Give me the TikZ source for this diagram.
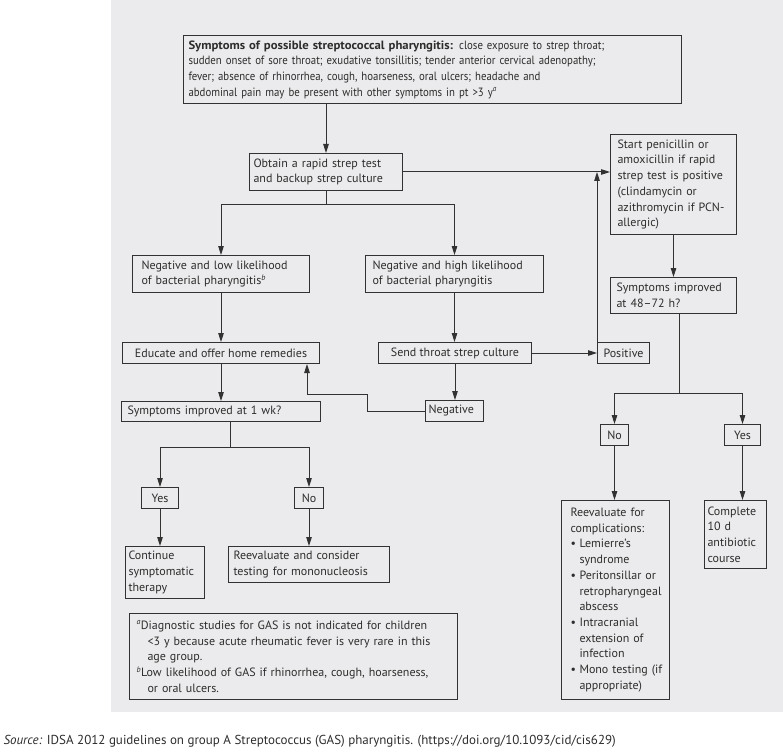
\documentclass[tikz,border=0pt]{standalone}
\usepackage{fontspec}
\setmainfont{PT Sans}
\newfontfamily\condfont{PT Sans}[FakeStretch=0.9]
\newfontfamily\widebold{PT Sans}[FakeStretch=1.06]
\usetikzlibrary{arrows.meta}
\definecolor{bg}{RGB}{235,235,237}
\definecolor{ln}{RGB}{50,50,50}
\definecolor{txt}{RGB}{45,45,45}
\newcommand{\bul}{\makebox[9pt][l]{\textbullet}}
\newcommand{\ind}{\hspace*{9pt}}
\begin{document}
\begin{tikzpicture}[x=1pt,y=-1pt,font=\fontsize{12}{15.7}\selectfont,text=txt,
	bx/.style={draw=ln,line width=1pt,anchor=north west,inner sep=0pt,align=left},
	ar/.style={draw=ln,line width=1pt,-{Triangle[length=9pt,width=5.5pt]}}]
	\useasboundingbox (0,0) rectangle (783,751);
	\fill[bg] (111,0) rectangle (783,712);
	\node[bx,minimum width=498,minimum height=68,text width=488,font=\condfont\fontsize{12}{15.7}\selectfont] (sym) at (183,35) {\mbox{{\widebold\bfseries Symptoms of possible streptococcal pharyngitis:} close exposure to strep throat;}\\\mbox{sudden onset of sore throat; exudative tonsillitis; tender anterior cervical adenopathy;}\\fever; absence of rhinorrhea, cough, hoarseness, oral ulcers; headache and\\abdominal pain may be present with other symptoms in pt >3 y\textsuperscript{\itshape a}};
	\node[bx,minimum width=153,minimum height=37,text width=145] (obt) at (249,153) {Obtain a rapid strep test\\and backup strep culture};
	\node[bx,minimum width=126,minimum height=100,text width=112] (start) at (610,134) {Start penicillin or\\amoxicillin if rapid\\\mbox{strep test is positive}\\(clindamycin or\\\mbox{azithromycin if PCN-}\\allergic)};
	\node[bx,minimum width=177,minimum height=37,text width=159] (negl) at (132,255) {Negative and low likelihood\\of bacterial pharyngitis\textsuperscript{\itshape b}};
	\node[bx,minimum width=178,minimum height=37,text width=164] (negh) at (365,255) {\mbox{Negative and high likelihood}\\of bacterial pharyngitis};
	\node[bx,minimum width=197,minimum height=21,align=center] (edu) at (122,342) {Educate and offer home remedies};
	\node[bx,minimum width=153,minimum height=21,align=center] (send) at (378,342) {Send throat strep culture};
	\node[bx,minimum width=52,minimum height=21,align=center] (pos) at (597,342) {Positive};
	\node[bx,minimum width=58,minimum height=21,text width=52] (neg) at (425,400) {Negative};
	\node[bx,minimum width=199,minimum height=20,text width=187] (imp1) at (121,401) {Symptoms improved at 1 wk?};
	\node[bx,minimum width=37,minimum height=21,align=center] (yes1) at (141,487) {Yes};
	\node[bx,minimum width=29,minimum height=21,align=center] (no1) at (294,487) {No};
	\node[bx,minimum width=79,minimum height=52,text width=73] (cont) at (125,546) {Continue\\symptomatic\\therapy};
	\node[bx,minimum width=161,minimum height=36,text width=151] (reev1) at (228,546) {Reevaluate and consider\\testing for mononucleosis};
	\node[bx,minimum width=328,minimum height=86,text width=314] (foot) at (129,613) {\textsuperscript{\itshape a}Diagnostic studies for GAS is not indicated for children\\\hspace*{11pt}<3 y because acute rheumatic fever is very rare in this\\\hspace*{11pt}age group.\\\textsuperscript{\itshape b}Low likelihood of GAS if rhinorrhea, cough, hoarseness,\\\hspace*{11pt}or oral ulcers.};
	\node[bx,minimum width=126,minimum height=36,text width=114] (imp2) at (610,277) {Symptoms improved\\at 48--72 h?};
	\node[bx,minimum width=28,minimum height=21,align=center] (no2) at (600,424) {No};
	\node[bx,minimum width=36,minimum height=21,align=center] (yes2) at (724,424) {Yes};
	\node[bx,minimum width=108,minimum height=199,text width=90] (comp) at (561,500) {Reevaluate for\\complications:\\\mbox{\bul Lemierre’s}\\\ind syndrome\\\mbox{\bul Peritonsillar or}\\\mbox{\ind retropharyngeal}\\\ind abscess\\\mbox{\bul Intracranial}\\\mbox{\ind extension of}\\\ind infection\\\mbox{\bul Mono testing (if}\\\mbox{\ind appropriate)}};
	\node[bx,minimum width=62,minimum height=68,text width=56] (fin) at (704,500) {Complete\\10 d\\antibiotic\\course};
	\node[anchor=west,font=\fontsize{13}{15}\selectfont] (src) at (0,741) {\textit{Source:} IDSA 2012 guidelines on group A Streptococcus (GAS) pharyngitis. (https://doi.org/10.1093/cid/cis629)};
	\coordinate (j1) at ([yshift=-14]obt.south);
	\coordinate (j2) at (230,447);
	\coordinate (j3) at (679,393);
	\draw[ar] (sym.south -| obt.north) -- (obt.north);
	\draw[ar] (obt.east) -- (obt.east -| start.west);
	\draw[ln,line width=1pt] (obt.south) -- (j1) (j2 |- imp1.south) -- (j2) (j3 |- imp2.south) -- (j3);
	\foreach \j/\n in {j1/negl,j1/negh,j2/yes1,j2/no1,j3/no2,j3/yes2} \draw[ar] (\j) -| (\n.north);
	\foreach \u/\v in {negl/edu,negh/send,send/neg,edu/imp1,yes1/cont,no1/reev1,start/imp2,no2/comp,yes2/fin} \draw[ar] (\u.south) -- (\u.south |- \v.north);
	\draw[ar] (send.east) -- (pos.west);
	\draw[ar] (pos.north west) -- (pos.north west |- obt.east);
	\draw[ar] (neg.west) -- ++(-58,0) -- ++(0,-17) -| ([xshift=-13]edu.south east);
\end{tikzpicture}
\end{document}
